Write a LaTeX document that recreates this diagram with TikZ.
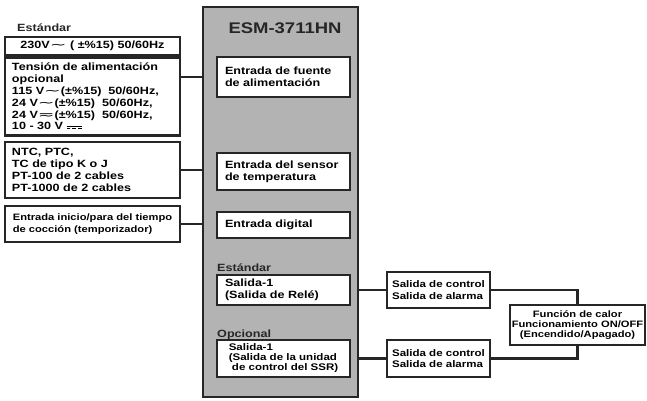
\documentclass[tikz,border=0pt]{standalone}
\usepackage{fontspec}
\usepackage{graphicx}
\setmainfont{Liberation Sans}[FakeStretch=1.2]
\newfontfamily\symfont{DejaVu Sans}
\usetikzlibrary{positioning}
\definecolor{Frame}{HTML}{262626}
\definecolor{Panel}{HTML}{B3B3B3}
% supply marks: alternating, alternating/direct, direct current
\newcommand{\acmark}{\scalebox{1.9}[1]{\mdseries\symfont ∼}}
\newcommand{\acdcmark}{\scalebox{1.9}[1]{\mdseries\symfont ≂}}
\newcommand{\dcmark}{\rlap{\rule[3.4pt]{15pt}{0.9pt}}\rule[0.6pt]{3.8pt}{0.9pt}\hspace{1.8pt}\rule[0.6pt]{3.8pt}{0.9pt}\hspace{1.8pt}\rule[0.6pt]{3.8pt}{0.9pt}}
\begin{document}
\begin{tikzpicture}[x=1pt,y=-1pt,
  box/.style={draw=Frame,line width=2.6pt,fill=white,inner xsep=7pt,inner ysep=2pt,align=left,font=\bfseries\fontsize{10.5}{11.8}\selectfont,execute at begin node={\hyphenpenalty=10000 }},
  inbox/.style={box,minimum width=133pt,text width=117pt,inner xsep=8pt},
  small/.style={font=\bfseries\fontsize{9.6}{11.2}\selectfont},
  lbl/.style={font=\bfseries\fontsize{10.5}{12}\selectfont,text=Frame,inner sep=0pt,anchor=west},
  wire/.style={draw=Frame,line width=2.6pt}]
\useasboundingbox (0,0) rectangle (647,400);
% device panel
\node[draw=Frame,line width=2.6pt,fill=Panel,minimum width=155pt,minimum height=390pt] (main) at (280.5,202) {};
\node[font=\bfseries\fontsize{15.4}{18}\selectfont,text=Frame,anchor=base] (name) at (285,33) {ESM-3711HN};
\node[inbox,minimum height=40pt] (pwr) at (283.5,77) {Entrada de fuente\\de alimentación};
\node[inbox,minimum height=37pt] (sens) at (283.5,171.5) {Entrada del sensor\\de temperatura};
\node[inbox,minimum height=26pt] (dig) at (283.5,225) {Entrada digital};
\node[lbl] (stdout) at (217,268) {Estándar};
\node[inbox,minimum height=30pt] (rel) at (283.5,290) {Salida-1\\(Salida de Relé)};
\node[lbl] (optout) at (217,335) {Opcional};
\node[box,minimum width=133pt,minimum height=37pt,inner xsep=2pt,font=\bfseries\fontsize{9.6}{10}\selectfont] (ssr) at (283.5,358.5) {Salida-1\\(Salida de la unidad\\\ de control del SSR)};
% inputs
\node[lbl] (stdin) at (17,28) {Estándar};
\node[box,minimum width=175pt,minimum height=18pt,align=center] (std) at (92.5,46) {230V\acmark\ ( ±\%15) 50/60Hz};
\node[box,minimum width=175pt,minimum height=78pt,text width=161pt,below=0pt of std] (opt) {Tensión de alimentación\\opcional\\115 V\acmark(±\%15)\ \ 50/60Hz,\\24 V\acmark(±\%15)\ \ 50/60Hz,\\24 V\acdcmark(±\%15)\ \ 50/60Hz,\\10 - 30 V \dcmark};
\node[box,minimum width=175pt,minimum height=56pt,text width=161pt] (sensors) at (92.5,170) {NTC, PTC,\\TC de tipo K o J\\PT-100 de 2 cables\\PT-1000 de 2 cables};
\node[box,minimum width=175pt,minimum height=36pt,inner xsep=2pt,font=\bfseries\fontsize{9.3}{11.8}\selectfont] (timer) at (92.5,224) {Entrada inicio/para del tiempo\\de cocción (temporizador)};
% outputs
\node[box,small,minimum width=103pt,minimum height=36pt,inner xsep=2pt] (ctl1) at (438.5,290) {Salida de control\\Salida de alarma};
\node[box,small,minimum width=103pt,minimum height=37pt,inner xsep=2pt] (ctl2) at (438.5,358.5) {Salida de control\\Salida de alarma};
\node[box,minimum width=135pt,minimum height=40pt,inner xsep=1pt,align=center,font=\bfseries\fontsize{9.3}{9.6}\selectfont] (heat) at (577.5,325) {Función de calor\\Funcionamiento ON/OFF\\(Encendido/Apagado)};
\draw[wire] (opt.east |- pwr.west) -- (main.west |- pwr.west);
\draw[wire] (sensors.east) -- (main.west |- sensors.east);
\draw[wire] (timer.east) -- (main.west |- timer.east);
\draw[wire] (main.east |- ctl1.west) -- (ctl1.west);
\draw[wire] (main.east |- ctl2.west) -- (ctl2.west);
\draw[wire] (ctl1.east) -| (heat.north);
\draw[wire] (ctl2.east) -| (heat.south);
\end{tikzpicture}
\end{document}
